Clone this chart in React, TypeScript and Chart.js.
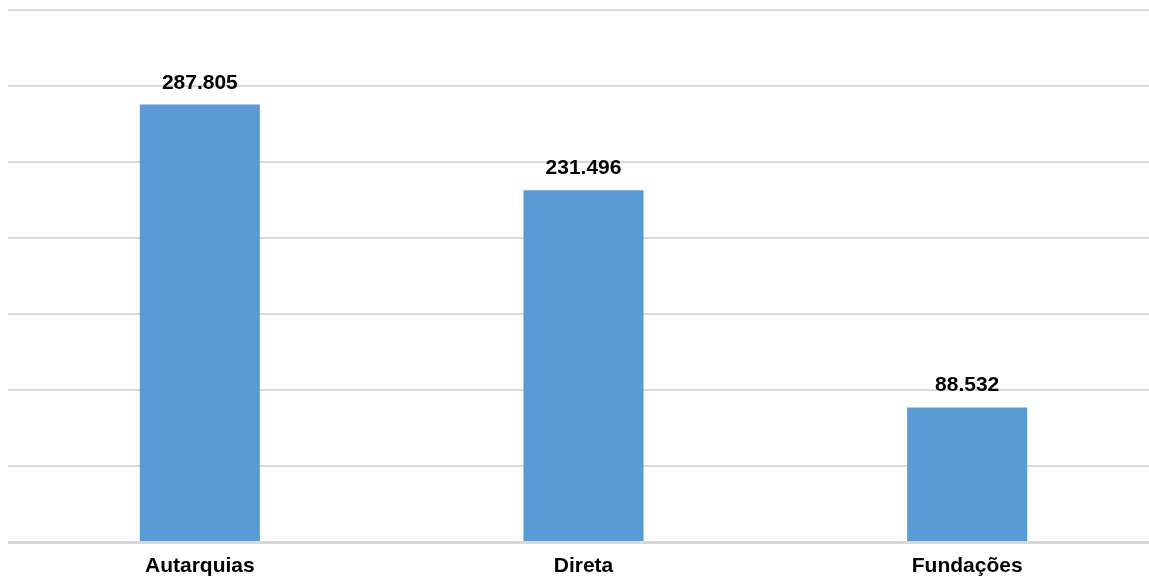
import React, { useEffect, useRef } from "react";
import { Chart, registerables } from "chart.js";

Chart.register(...registerables);

const categories = ["Autarquias", "Direta", "Fundações"];
const values = [287805, 231496, 88532];
const yMax = 350000;
const yStep = 50000;

const fmt = (v: number) => v.toLocaleString("pt-BR");

const dataLabels = {
  id: "dataLabels",
  afterDatasetsDraw(chart: any) {
    const ctx = chart.ctx;
    const meta = chart.getDatasetMeta(0);
    ctx.save();
    ctx.font = "bold 21px 'Liberation Sans', Arial, sans-serif";
    ctx.fillStyle = "#000";
    ctx.textAlign = "center";
    ctx.textBaseline = "alphabetic";
    meta.data.forEach((el: any, i: number) => {
      ctx.fillText(fmt(values[i]), el.x, el.y - 16);
    });
    ctx.restore();
  },
};

export default function App() {
  const ref = useRef<HTMLCanvasElement>(null);
  useEffect(() => {
    if (!ref.current) return;
    const chart = new Chart(ref.current, {
      type: "bar",
      data: {
        labels: categories,
        datasets: [
          {
            data: values,
            backgroundColor: "#5b9bd5",
            barPercentage: 1,
            categoryPercentage: 0.313,
          },
        ],
      },
      options: {
        animation: false,
        responsive: false,
        maintainAspectRatio: false,
        layout: { padding: { top: 10, bottom: 0, left: 0, right: 0 } },
        plugins: { legend: { display: false }, tooltip: { enabled: false } },
        scales: {
          x: {
            grid: { display: false, drawTicks: false },
            border: { display: true, color: "#d9d9d9", width: 3 },
            ticks: {
              color: "#000",
              padding: 12,
              font: { family: "'Liberation Sans', Arial, sans-serif", size: 21, weight: "bold" },
            },
            afterFit: (scale: any) => {
              scale.height = 36;
            },
          },
          y: {
            min: 0,
            max: yMax,
            ticks: { display: false, stepSize: yStep },
            grid: { color: "#d9d9d9", lineWidth: 2, drawTicks: false },
            border: { display: false },
          },
        },
      },
      plugins: [dataLabels],
    });
    return () => chart.destroy();
  }, []);
  return (
    <div style={{ position: "fixed", left: 8, top: 0, width: 1151, height: 578 }}>
      <canvas ref={ref} width={1151} height={578} style={{ width: 1151, height: 578 }} />
    </div>
  );
}
